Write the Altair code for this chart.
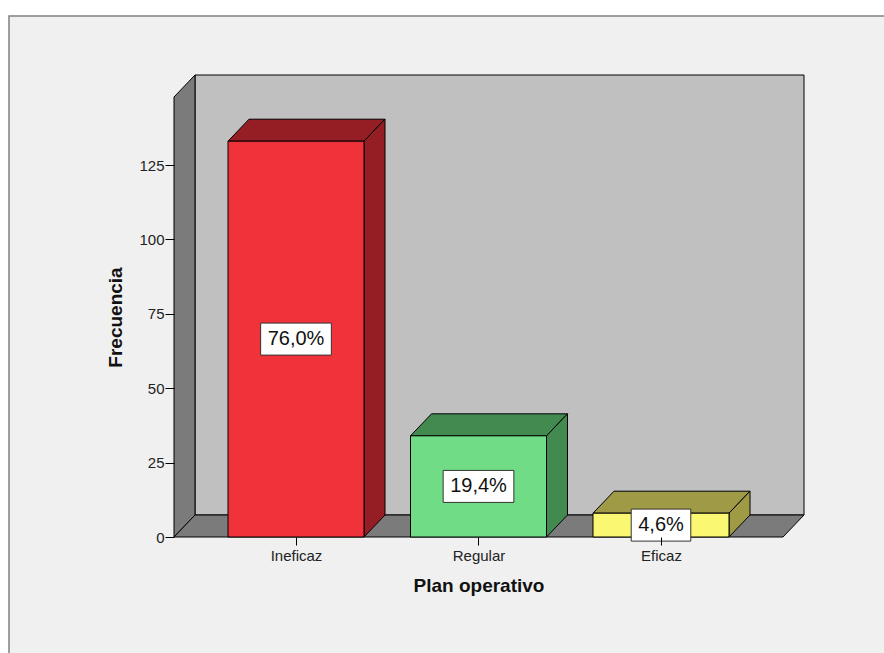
import altair as alt
import pandas as pd

# ---- data ----
categorias = ["Ineficaz", "Regular", "Eficaz"]
frecuencias = [133, 34, 8]
porcentajes = ["76,0%", "19,4%", "4,6%"]
y_ticks = [0, 25, 50, 75, 100, 125]

# ---- styles ----
FRENTE = ["#f0333a", "#70dd86", "#faf772"]
LADO = ["#951e24", "#438a51", "#9e9a46"]
PARED = "#c0c0c0"
SUELO = "#7b7b7b"
FONT = "Liberation Sans"

# ---- geometry (plot area in px, converted to data units) ----
W, H = 630, 462
PX_X = 182.5          # px per category step
PX_Y = 2.976          # px per frequency unit
XMIN = -122 / PX_X
XMAX = XMIN + W / PX_X
YMAX = H / PX_Y
DX = 21 / PX_X        # 3D depth offset in x units
DY = 22 / PX_Y        # 3D depth offset in y units
HW = 68 / PX_X        # bar half width

xs = alt.Scale(domain=[XMIN, XMAX], nice=False, zero=False)
ys = alt.Scale(domain=[0, YMAX], nice=False, zero=False)

label_expr = "[" + ",".join(f"'{c}'" for c in categorias) + "][round(datum.value)]"
XAX = alt.Axis(
    values=list(range(len(categorias))), labelExpr=label_expr,
    title="Plan operativo", domain=False, grid=False, tickSize=8, tickColor="#000",
    labelFont=FONT, labelFontSize=15, labelColor="#222", labelPadding=3,
    titleFont=FONT, titleFontSize=19, titleFontWeight="bold", titleColor="#111",
    titleX=304.5, titleY=48, titleBaseline="middle", zindex=2)
YAX = alt.Axis(
    values=y_ticks, title="Frecuencia", domain=False, grid=False, tickSize=9,
    tickColor="#000", labelFont=FONT, labelFontSize=15, labelColor="#222",
    labelPadding=1, titleFont=FONT, titleFontSize=19, titleFontWeight="bold",
    titleColor="#111", titleX=-59, titleY=242, titleBaseline="middle", zindex=2)

def X(f):
    return alt.X(f, scale=xs, axis=XAX, title="Plan operativo")

def Y(f, **kw):
    return alt.Y(f, scale=ys, axis=YAX, title="Frecuencia", **kw)

# polygons drawn as areas (x independent, y..y2 range)
rows = []
def poly(name, pts, fill):
    for (x, y, y2) in pts:
        rows.append({"shape": name, "x": x, "y": y, "y2": y2, "fill": fill})

poly("pared_izq", [(XMIN, 0, YMAX - DY), (XMIN + DX, DY, YMAX)], SUELO)
poly("suelo", [(XMIN, 0, 0), (XMIN + DX, 0, DY), (XMAX - DX, 0, DY), (XMAX, DY, DY)], SUELO)

fronts = []
cajas = []
char_w = {",": 5.56, "%": 17.78}
for i, (cat, v, pct) in enumerate(zip(categorias, frecuencias, porcentajes)):
    c = float(i)
    fronts.append({"x": c - HW, "x2": c + HW, "y": 0, "y2": v, "fill": FRENTE[i]})
    poly(f"top{i}", [(c - HW, v, v), (c - HW + DX, v, v + DY),
                     (c + HW, v, v + DY), (c + HW + DX, v + DY, v + DY)], LADO[i])
    poly(f"side{i}", [(c + HW, 0, v), (c + HW + DX, DY, v + DY)], LADO[i])
    tw = sum(char_w.get(ch, 11.12) for ch in pct) + 14
    cajas.append({"x": c - tw / 2 / PX_X, "x2": c + tw / 2 / PX_X,
                  "y": v / 2 - 16 / PX_Y, "y2": v / 2 + 16 / PX_Y,
                  "xc": c, "yc": v / 2, "label": pct})

areas = pd.DataFrame(rows)
fronts = pd.DataFrame(fronts)
cajas = pd.DataFrame(cajas)
backdf = pd.DataFrame({"x": [XMIN + DX], "x2": [XMAX], "y": [DY], "y2": [YMAX]})

# background panel (decoration)
panel = alt.Chart(backdf).mark_rect(
    fill="#f0f0f0", stroke="#808080", strokeWidth=1.5
).encode(
    x=alt.value(9 - 174), x2=alt.value(1000),
    y=alt.value(16 - 75), y2=alt.value(1000)
)

back = alt.Chart(backdf).mark_rect(fill=PARED, stroke="black", strokeWidth=1).encode(
    x=X("x:Q"), x2="x2:Q", y=Y("y:Q"), y2="y2:Q",
)

polys = alt.Chart(areas).mark_area(stroke="black", strokeWidth=1, opacity=1).encode(
    x=X("x:Q"), y=Y("y:Q", stack=None), y2="y2:Q",
    detail="shape:N",
    color=alt.Color("fill:N", scale=None),
)

bars = alt.Chart(fronts).mark_rect(stroke="black", strokeWidth=1).encode(
    x=X("x:Q"), x2="x2:Q", y=Y("y:Q"), y2="y2:Q",
    color=alt.Color("fill:N", scale=None),
)

boxes = alt.Chart(cajas).mark_rect(fill="white", stroke="#333", strokeWidth=1).encode(
    x=X("x:Q"), x2="x2:Q", y=Y("y:Q"), y2="y2:Q",
)

texts = alt.Chart(cajas).mark_text(
    font=FONT, fontSize=20, color="#111", align="center", baseline="middle"
).encode(
    x=X("xc:Q"), y=Y("yc:Q"), text="label:N",
)

chart = alt.layer(panel, back, polys, bars, boxes, texts).properties(
    width=W, height=H,
    autosize=alt.AutoSizeParams(type="none"),
    padding={"left": 174, "top": 75, "right": 80, "bottom": 116},
    background="white",
).configure_view(strokeWidth=0)

chart.save("out.html", embed_options={"renderer": "svg", "actions": False})
